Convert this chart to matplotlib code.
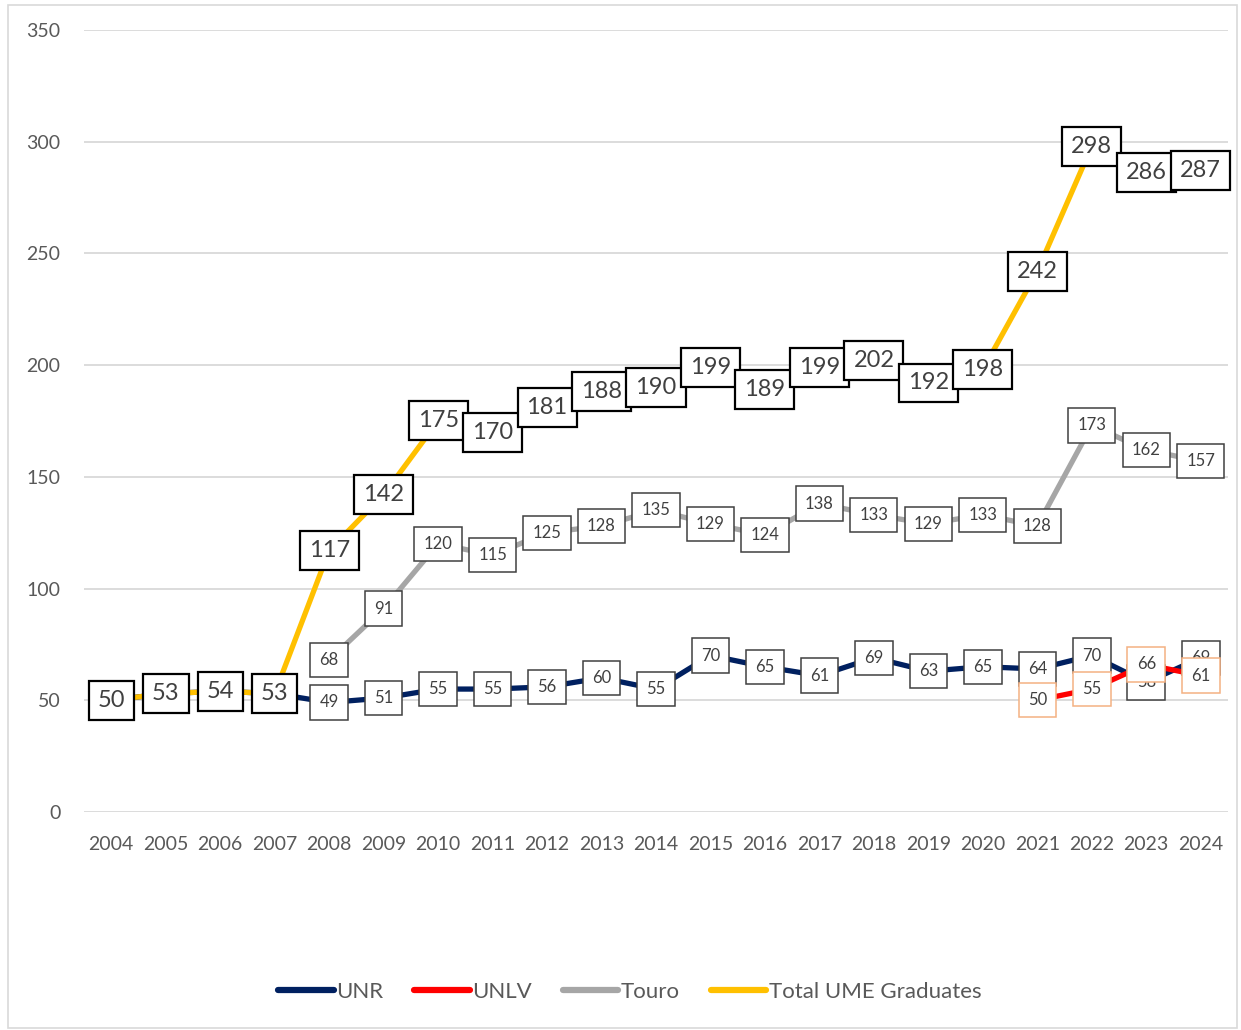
import numpy as np
import matplotlib
matplotlib.use('Agg')
import matplotlib.pyplot as plt
from matplotlib.patches import Rectangle

plt.rcParams['font.family'] = ['Lato', 'DejaVu Sans']

years = [str(y) for y in range(2004, 2025)]
unr = [50, 53, 54, 53, 49, 51, 55, 55, 56, 60, 55, 70, 65, 61, 69, 63, 65, 64, 70, 58, 69]
unlv_years = ['2021', '2022', '2023', '2024']
unlv = [50, 55, 66, 61]
touro_years = [str(y) for y in range(2008, 2025)]
touro = [68, 91, 120, 115, 125, 128, 135, 129, 124, 138, 133, 129, 133, 128, 173, 162, 157]
total = [50, 53, 54, 53, 117, 142, 175, 170, 181, 188, 190, 199, 189, 199, 202, 192, 198, 242, 298, 286, 287]

fig = plt.figure(figsize=(12.41, 10.30), dpi=100)
ax = fig.add_axes([0.0677, 0.2117, 0.9218, 0.7592])

xi = {y: i for i, y in enumerate(years)}

series = [
    (years, unr, 'UNR', '#002060', '#404040', 12, 1),
    (unlv_years, unlv, 'UNLV', '#FF0000', '#F4B183', 12, 2),
    (touro_years, touro, 'Touro', '#A6A6A6', '#404040', 12, 3),
    (years, total, 'Total UME Graduates', '#FFC000', '#000000', 17, 4),
]

for yrs, vals, name, col, edge, fs, k in series:
    xs = [xi[y] for y in yrs]
    ax.plot(xs, vals, color=col, lw=3.8, label=name, zorder=2 + k, solid_capstyle='round')

for yrs, vals, name, col, edge, fs, k in series:
    xs = [xi[y] for y in yrs]
    for x, v in zip(xs, vals):
        # UNR labels before 2008 sit under the identical total labels
        if name == 'UNR' and x < 4:
            continue
        ax.text(x, v, str(v), ha='center', va='center', fontsize=fs, color='#404040',
                zorder=10 + k,
                bbox=dict(boxstyle='square,pad=0.38' if k == 4 else 'square,pad=0.55',
                          fc='white', ec=edge, lw=1.6 if k == 4 else 1.1))

ax.set_xlim(-0.5, len(years) - 0.5)
ax.set_ylim(0, 350)
ax.set_yticks(np.arange(0, 351, 50))
ax.set_xticks(range(len(years)))
ax.set_xticklabels(years)
ax.grid(axis='y', color='#D9D9D9', lw=1.3)
ax.set_axisbelow(True)
for s in ax.spines.values():
    s.set_visible(False)
ax.tick_params(length=0, labelsize=14, colors='#595959')
ax.tick_params(axis='y', pad=17)
ax.tick_params(axis='x', pad=17)

leg = ax.legend(loc='center', bbox_to_anchor=(0.477, -0.2305), ncol=4, frameon=False,
                fontsize=16, handlelength=2.5, handletextpad=0.1, columnspacing=1.4)
for t in leg.get_texts():
    t.set_color('#595959')
for h in leg.get_lines():
    h.set_linewidth(4.5)

fig.patches.append(Rectangle((0.0065, 0.002), 0.99, 0.993, transform=fig.transFigure,
                             fill=False, ec='#D9D9D9', lw=1.2))

fig.savefig('out.png', dpi=100)
